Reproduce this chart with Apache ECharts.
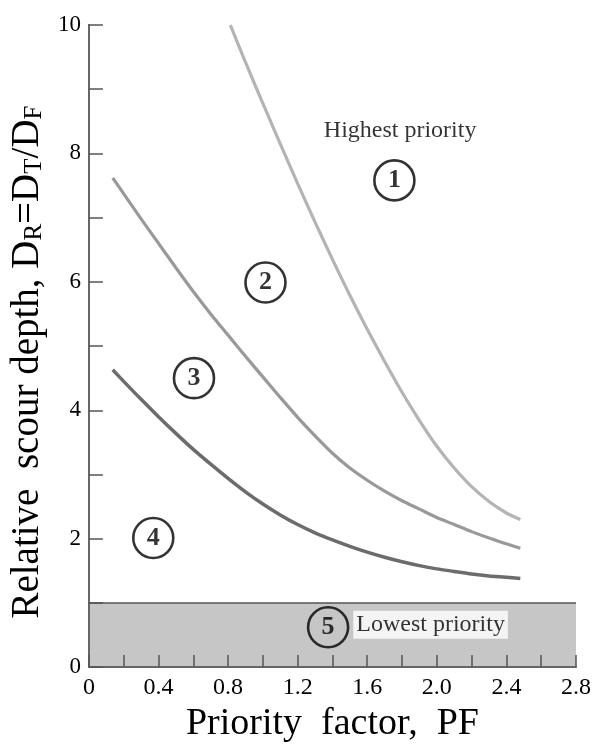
<!DOCTYPE html>
<html>
<head>
<meta charset="utf-8">
<script src="https://cdn.jsdelivr.net/npm/echarts@6/dist/echarts.min.js"></script>
<style>html,body{margin:0;padding:0;background:#fff}#c{width:595px;height:748px}</style>
</head>
<body>
<div id="c"></div>
<script>
// Curve 1 (highest priority boundary)
const pf1 = [0.813,0.9,1.0,1.1,1.2,1.3,1.4,1.5,1.6,1.7,1.8,1.9,2.0,2.1,2.2,2.3,2.4,2.48];
const dr1 = [10,9.42,8.78,8.15,7.53,6.93,6.35,5.79,5.26,4.76,4.28,3.84,3.44,3.10,2.81,2.58,2.40,2.30];
// Curve 2
const pf2 = [0.137,0.3,0.4,0.5,0.6,0.7,0.8,0.9,1.0,1.1,1.2,1.3,1.4,1.5,1.6,1.7,1.8,1.9,2.0,2.1,2.2,2.3,2.4,2.48];
const dr2 = [7.62,6.98,6.60,6.22,5.85,5.50,5.17,4.84,4.52,4.20,3.89,3.60,3.33,3.10,2.91,2.74,2.59,2.46,2.33,2.22,2.11,2.01,1.92,1.85];
// Curve 3
const pf3 = [0.137,0.2,0.3,0.4,0.5,0.6,0.7,0.8,0.9,1.0,1.1,1.2,1.3,1.4,1.5,1.6,1.7,1.8,1.9,2.0,2.1,2.2,2.3,2.4,2.48];
const dr3 = [4.63,4.45,4.17,3.90,3.64,3.39,3.16,2.94,2.73,2.54,2.37,2.22,2.09,1.98,1.88,1.79,1.71,1.64,1.58,1.53,1.49,1.45,1.42,1.40,1.38];
// Lowest-priority band (DR below 1)
const bandPF = [0, 2.8];
const bandDR = [1, 1];
// Zone labels (circled numbers)
const zoneNames = ['1','2','3','4','5'];
const zonePF = [1.756, 1.015, 0.604, 0.37, 1.375];
const zoneDR = [7.58, 5.99, 4.50, 2.01, 0.62];
// Text annotations
const noteTexts = ['Highest priority', 'Lowest priority'];
const notePF = [1.789, 1.964];
const noteDR = [8.35, 0.66];
// Tick labels
const xTickLabels = ['0','0.4','0.8','1.2','1.6','2.0','2.4','2.8'];
const yTickLabels = ['0','2','4','6','8','10'];

const zip = (a, b) => a.map((v, i) => [v, b[i]]);
const serif = '"Liberation Serif", "DejaVu Serif", serif';

const chart = echarts.init(document.getElementById('c'), null, {renderer: 'canvas'});
chart.setOption({
  animation: false,
  backgroundColor: '#fff',
  grid: {left: 86, top: 25, right: 19, bottom: 71, containLabel: false},
  xAxis: [{
    type: 'value', min: 0, max: 2.8, interval: 0.2, z: 3,
    axisLine: {show: true, onZero: false, lineStyle: {color: '#b5b5b5', width: 1, type: 'dotted'}},
    axisTick: {show: true, inside: true, length: 12, lineStyle: {color: '#555', width: 1.5}},
    splitLine: {show: false},
    axisLabel: {
      margin: 9, color: '#000', fontFamily: serif, fontSize: 24,
      formatter: v => { const k = Math.round(v * 10); return k % 4 === 0 ? xTickLabels[k / 4] : ''; }
    },
    name: 'Priority  factor,  PF', nameLocation: 'middle', nameGap: 34,
    nameTextStyle: {fontFamily: serif, fontSize: 38, color: '#000'}
  }, {
    type: 'value', min: 0, max: 2.8, position: 'top', z: 3,
    axisLine: {show: true, lineStyle: {color: '#666', width: 2}},
    axisTick: {show: false}, axisLabel: {show: false}, splitLine: {show: false}
  }],
  yAxis: [{
    type: 'value', min: 0, max: 10, interval: 1, z: 3,
    axisLine: {show: true, onZero: false, lineStyle: {color: '#666', width: 2}},
    axisTick: {show: true, inside: true, length: 14, lineStyle: {color: '#555', width: 1.5}},
    splitLine: {show: false},
    axisLabel: {
      margin: 8, color: '#000', fontFamily: serif, fontSize: 23,
      formatter: v => { const k = Math.round(v); return k % 2 === 0 ? yTickLabels[k / 2] : ''; }
    },
    name: '{m|Relative  scour depth, D}{s|R}{m|=D}{s|T}{m|/D}{s|F}',
    nameLocation: 'middle', nameGap: 34, nameRotate: 90,
    nameTextStyle: {
      fontFamily: serif, color: '#000', padding: [0, 32, 0, 0],
      rich: {
        m: {fontFamily: serif, fontSize: 39, lineHeight: 39, color: '#000'},
        s: {fontFamily: serif, fontSize: 25, lineHeight: 13, verticalAlign: 'bottom', color: '#000'}
      }
    }
  }, {
    type: 'value', min: 0, max: 10, position: 'right', z: 3,
    axisLine: {show: true, lineStyle: {color: '#666', width: 2}},
    axisTick: {show: false}, axisLabel: {show: false}, splitLine: {show: false}
  }],
  series: [
    {
      type: 'line', name: 'band', data: zip(bandPF, bandDR), symbol: 'none', z: 1,
      lineStyle: {color: '#555', width: 1.5},
      areaStyle: {color: '#c6c6c6', origin: 'start', opacity: 1}
    },
    {
      type: 'line', name: 'c1', data: zip(pf1, dr1), symbol: 'none', smooth: 0.3,
      lineStyle: {color: '#b4b4b4', width: 3.2}
    },
    {
      type: 'line', name: 'c2', data: zip(pf2, dr2), symbol: 'none', smooth: 0.3,
      lineStyle: {color: '#999999', width: 3.2}
    },
    {
      type: 'line', name: 'c3', data: zip(pf3, dr3), symbol: 'none', smooth: 0.3,
      lineStyle: {color: '#6c6c6c', width: 3.5}
    },
    {
      type: 'scatter', name: 'notes', z: 4, silent: true,
      data: notePF.map((x, i) => ({value: [x, noteDR[i]], name: noteTexts[i],
        label: i === 1 ? {backgroundColor: '#fff', padding: [3, 3, 1, 3]} : {}})),
      symbol: 'circle', symbolSize: 1, itemStyle: {color: 'rgba(0,0,0,0)'},
      label: {show: true, position: 'inside', formatter: p => p.name,
        fontFamily: serif, fontSize: 24, color: '#000'}
    },
    {
      type: 'scatter', name: 'zones', z: 5, silent: true,
      data: zonePF.map((x, i) => ({value: [x, zoneDR[i]], name: zoneNames[i]})),
      symbol: 'circle', symbolSize: 40,
      itemStyle: {color: 'rgba(0,0,0,0)', borderColor: '#000', borderWidth: 2.6},
      label: {show: true, position: 'inside', formatter: p => p.name,
        fontFamily: serif, fontWeight: 700, fontSize: 26, color: '#000'}
    }
  ]
});
</script>
</body>
</html>
